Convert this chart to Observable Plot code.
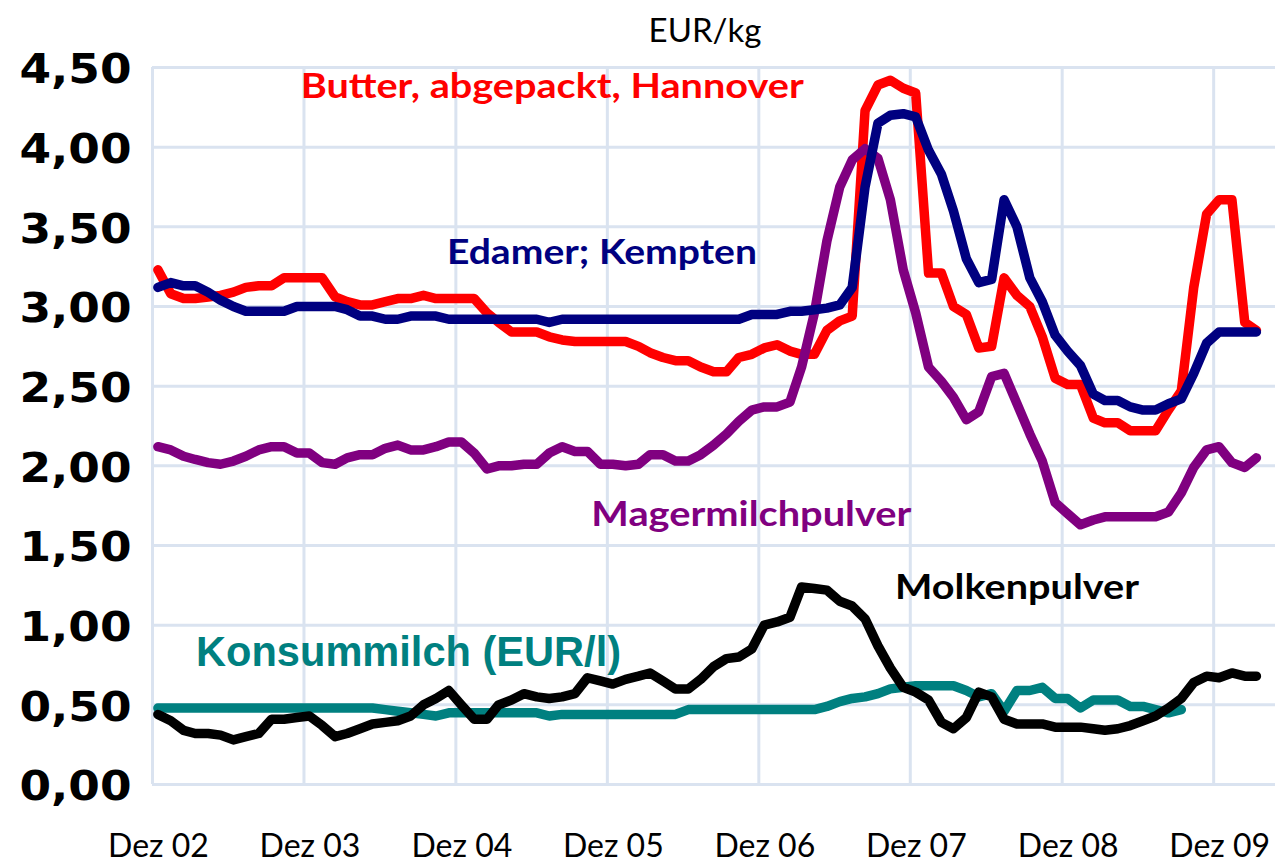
<!DOCTYPE html>
<html><head><meta charset="utf-8">
<script src="https://cdn.jsdelivr.net/npm/d3@7"></script>
<script src="https://cdn.jsdelivr.net/npm/@observablehq/plot@0.6"></script>
<style>
html,body{margin:0;padding:0;background:#fff;}
</style></head><body><div id="chart"></div>
<script>
// Monthly prices, Dez 2002 .. Mär 2010 (EUR/kg; Konsummilch EUR/l)
const butter = [3.23,3.08,3.05,3.05,3.06,3.07,3.09,3.12,3.13,3.13,
  3.18,3.18,3.18,3.18,3.06,3.03,3.01,3.01,3.03,3.05,
  3.05,3.07,3.05,3.05,3.05,3.05,2.96,2.90,2.84,2.84,
  2.84,2.81,2.79,2.78,2.78,2.78,2.78,2.78,2.75,2.71,
  2.68,2.66,2.66,2.62,2.59,2.59,2.68,2.70,2.74,2.76,
  2.72,2.70,2.70,2.85,2.91,2.94,4.23,4.39,4.42,4.37,
  4.34,3.21,3.21,3.00,2.95,2.74,2.75,3.18,3.07,3.00,
  2.81,2.55,2.51,2.51,2.30,2.27,2.27,2.22,2.22,2.22,
  2.35,2.47,3.12,3.58,3.67,3.67,2.90,2.85];
const edamer = [3.12,3.15,3.13,3.13,3.09,3.04,3.00,2.97,2.97,2.97,
  2.97,3.00,3.00,3.00,3.00,2.98,2.94,2.94,2.92,2.92,
  2.94,2.94,2.94,2.92,2.92,2.92,2.92,2.92,2.92,2.92,
  2.92,2.90,2.92,2.92,2.92,2.92,2.92,2.92,2.92,2.92,
  2.92,2.92,2.92,2.92,2.92,2.92,2.92,2.95,2.95,2.95,
  2.97,2.97,2.98,2.99,3.01,3.12,3.75,4.15,4.20,4.21,
  4.19,3.98,3.83,3.60,3.30,3.15,3.17,3.67,3.50,3.18,
  3.03,2.82,2.72,2.63,2.45,2.41,2.41,2.37,2.35,2.35,
  2.39,2.42,2.58,2.77,2.84,2.84,2.84,2.84];
const magermilch = [2.12,2.10,2.06,2.04,2.02,2.01,2.03,2.06,2.10,2.12,
  2.12,2.08,2.08,2.02,2.01,2.05,2.07,2.07,2.11,2.13,
  2.10,2.10,2.12,2.15,2.15,2.08,1.98,2.00,2.00,2.01,
  2.01,2.08,2.12,2.09,2.09,2.01,2.01,2.00,2.01,2.07,
  2.07,2.03,2.03,2.07,2.13,2.20,2.28,2.35,2.37,2.37,
  2.40,2.62,2.96,3.41,3.75,3.92,3.99,3.93,3.67,3.23,
  2.96,2.62,2.53,2.43,2.29,2.34,2.56,2.58,2.39,2.20,
  2.03,1.77,1.70,1.63,1.66,1.68,1.68,1.68,1.68,1.68,
  1.71,1.83,1.99,2.10,2.12,2.02,1.99,2.05];
const molken = [0.44,0.40,0.34,0.32,0.32,0.31,0.28,0.30,0.32,0.41,
  0.41,0.42,0.43,0.37,0.30,0.32,0.35,0.38,0.39,0.40,
  0.43,0.50,0.54,0.59,0.50,0.41,0.41,0.50,0.53,0.57,
  0.55,0.54,0.55,0.57,0.67,0.65,0.63,0.66,0.68,0.70,
  0.65,0.60,0.60,0.66,0.74,0.79,0.80,0.85,1.00,1.02,
  1.05,1.24,1.23,1.22,1.15,1.12,1.04,0.87,0.73,0.61,
  0.58,0.53,0.39,0.35,0.42,0.58,0.55,0.41,0.38,0.38,
  0.38,0.36,0.36,0.36,0.35,0.34,0.35,0.37,0.40,0.43,
  0.48,0.54,0.64,0.68,0.67,0.70,0.68,0.68];
const konsummilch = [0.48,0.48,0.48,0.48,0.48,0.48,0.48,0.48,0.48,0.48,
  0.48,0.48,0.48,0.48,0.48,0.48,0.48,0.48,0.47,0.46,
  0.45,0.44,0.43,0.45,0.45,0.45,0.45,0.45,0.45,0.45,
  0.45,0.43,0.44,0.44,0.44,0.44,0.44,0.44,0.44,0.44,
  0.44,0.44,0.47,0.47,0.47,0.47,0.47,0.47,0.47,0.47,
  0.47,0.47,0.47,0.49,0.52,0.54,0.55,0.57,0.60,0.61,
  0.62,0.62,0.62,0.62,0.59,0.55,0.57,0.46,0.59,0.59,
  0.61,0.54,0.54,0.48,0.53,0.53,0.53,0.49,0.49,0.47,
  0.45,0.47];

const seriesNames = ["Butter, abgepackt, Hannover","Edamer; Kempten","Magermilchpulver","Molkenpulver","Konsummilch (EUR/l)"];
const seriesColors = ["#ff0000","#000080","#800080","#000000","#008080"];

const xTickDates = ["2002-12-01","2003-12-01","2004-12-01","2005-12-01","2006-12-01","2007-12-01","2008-12-01","2009-12-01"];
const xTickLabels = ["Dez 02","Dez 03","Dez 04","Dez 05","Dez 06","Dez 07","Dez 08","Dez 09"];
const yTicks = [0,0.5,1,1.5,2,2.5,3,3.5,4,4.5];
const yTickLabels = ["0,00","0,50","1,00","1,50","2,00","2,50","3,00","3,50","4,00","4,50"];

// label anchors (date, value) for the in-chart series names
const labelDates = ["2005-07-21","2005-11-18","2006-11-13","2008-08-14","2004-08-09"];
const labelValues = [4.375,3.336,1.692,1.233,0.829];

// ---- build table ----
const firstMonth = new Date(Date.UTC(2002,11,1));
const months = d3.utcMonth.range(firstMonth, new Date(Date.UTC(2010,3,1)));
const pointDate = m => d3.utcDay.offset(m, 13); // monthly values plotted mid-month
const seriesValues = [butter, edamer, magermilch, molken, konsummilch];
const tables = seriesValues.map((vals, s) => vals.map((v, i) => ({date: pointDate(months[i]), value: v, series: seriesNames[s]})));

const xTicks = xTickDates.map(d => new Date(d + "T00:00:00Z"));
const xLabelMap = new Map(xTicks.map((d, i) => [+d, xTickLabels[i]]));

const labels = seriesNames.map((n, i) => ({text: n, date: new Date(labelDates[i] + "T00:00:00Z"), value: labelValues[i], color: seriesColors[i]}));

const grid = "#dae3f0";
const lineOpts = (k) => ({x: "date", y: "value", stroke: seriesColors[k], strokeWidth: 9.5, strokeLinejoin: "round", strokeLinecap: "round"});

const chart = Plot.plot({
  width: 1276,
  height: 866,
  marginLeft: 152,
  marginRight: 1,
  marginTop: 67,
  marginBottom: 82,
  style: {background: "#fff", overflow: "visible"},
  x: {type: "utc", domain: [firstMonth, new Date(Date.UTC(2010,3,29))]},
  y: {domain: [0, 4.5]},
  marks: [
    Plot.gridY(yTicks, {stroke: grid, strokeOpacity: 1, strokeWidth: 3}),
    Plot.gridX(xTicks, {stroke: grid, strokeOpacity: 1, strokeWidth: 3}),
    Plot.axisY(yTicks, {tickSize: 0, tickPadding: 21, tickFormat: d => yTickLabels[yTicks.indexOf(d)],
      fontSize: 40, fontWeight: "bold", fontFamily: "DejaVu Sans", fill: "#000", dy: 3, label: null}),
    Plot.axisX(xTicks, {tickSize: 0, tickPadding: 50, tickFormat: d => xLabelMap.get(+d),
      fontSize: 32, fontFamily: "Lato", fill: "#000", dx: 6, label: null}),
    Plot.line(tables[4], lineOpts(4)),
    Plot.line(tables[3], lineOpts(3)),
    Plot.line(tables[0], lineOpts(0)),
    Plot.line(tables[2], lineOpts(2)),
    Plot.line(tables[1], lineOpts(1)),
    Plot.text(labels.slice(0, 4), {x: "date", y: "value", text: "text", fill: "color",
      fontSize: 34, fontWeight: "bold", fontFamily: "Lato", textAnchor: "middle", lineAnchor: "middle"}),
    Plot.text(labels.slice(4), {x: "date", y: "value", text: "text", fill: "color",
      fontSize: 42, fontWeight: "bold", fontFamily: "Liberation Sans", textAnchor: "middle", lineAnchor: "middle"}),
    Plot.text(["EUR/kg"], {frameAnchor: "top", lineAnchor: "middle", dy: -36, dx: -9, fontSize: 33, fontFamily: "Lato", fill: "#000"})
  ]
});

// match the reference text widths
const widths = new Map([
  ["Butter, abgepackt, Hannover", 503], ["Edamer; Kempten", 310], ["Magermilchpulver", 320],
  ["Molkenpulver", 244], ["Konsummilch (EUR/l)", 425]
]);
chart.querySelectorAll("text").forEach(t => {
  const s = t.textContent;
  if (widths.has(s)) { t.setAttribute("textLength", widths.get(s)); t.setAttribute("lengthAdjust", "spacingAndGlyphs"); }
  else if (yTickLabels.includes(s)) { t.setAttribute("textLength", 112); t.setAttribute("lengthAdjust", "spacingAndGlyphs"); }
});
document.getElementById("chart").appendChild(chart);
</script>
</body></html>
